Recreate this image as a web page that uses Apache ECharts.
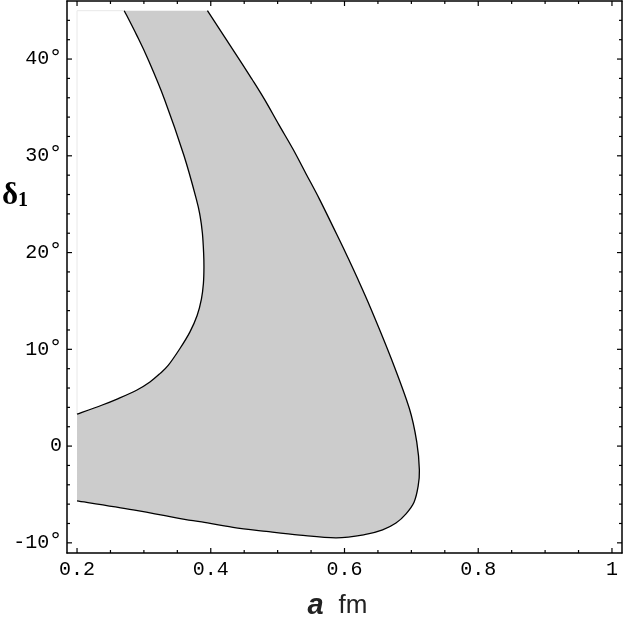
<!DOCTYPE html>
<html>
<head>
<meta charset="utf-8">
<script src="https://cdn.jsdelivr.net/npm/echarts@6/dist/echarts.min.js"></script>
<style>
  html, body { margin: 0; padding: 0; background: #fff; }
  #main { width: 623px; height: 625px; }
</style>
</head>
<body>
<div id="main"></div>
<script>
// 允许区域的边界 (a in fm, delta_1 in degrees)
// 外侧曲线：从顶部往下绕过右边再回到 a=0.2
var outerA = [0.395, 0.4433, 0.4622, 0.4806, 0.502, 0.5229, 0.5428, 0.5627, 0.5918, 0.6061, 0.6187, 0.6396, 0.670, 0.697, 0.708, 0.712, 0.710, 0.704, 0.692, 0.677, 0.657, 0.630, 0.5876, 0.533, 0.483, 0.4333, 0.3836, 0.3587, 0.284, 0.2];
var outerD = [45, 39.9, 37.86, 35.8, 33.2, 30.7, 28.1, 25.5, 21.4, 19.33, 17.45, 14.18, 9.03, 3.88, 0.45, -2.5, -4.2, -5.8, -7.0, -7.95, -8.65, -9.15, -9.48, -9.2, -8.82, -8.4, -7.8, -7.55, -6.59, -5.66];
// 内侧曲线：从 a=0.2 往上到顶部
var innerA = [0.2, 0.2368, 0.2617, 0.289, 0.309, 0.3239, 0.3363, 0.3537, 0.3687, 0.3796, 0.386, 0.389, 0.3898, 0.3893, 0.3875, 0.384, 0.3785, 0.360, 0.331, 0.306, 0.289, 0.2706];
var innerD = [3.3, 4.22, 4.91, 5.77, 6.63, 7.49, 8.34, 10.06, 11.78, 13.5, 15.2, 16.8, 18.5, 20.0, 22.0, 23.8, 25.5, 30.0, 35.8, 40.0, 42.5, 45];

// 绘图区域范围
var plotMinA = 0.2, plotMaxD = 45;

// 坐标轴刻度
var xMajor = [0.2, 0.4, 0.6, 0.8, 1];
var xMinor = [0.25, 0.3, 0.35, 0.45, 0.5, 0.55, 0.65, 0.7, 0.75, 0.85, 0.9, 0.95];
var yMajor = [-10, 0, 10, 20, 30, 40];
var yMinor = [-8, -6, -4, -2, 2, 4, 6, 8, 12, 14, 16, 18, 22, 24, 26, 28, 32, 34, 36, 38, 42, 44];

var pairs = function (xs, ys) {
  return xs.map(function (x, i) { return [x, ys[i]]; });
};
var outerPts = pairs(outerA, outerD);
var innerPts = pairs(innerA, innerD);

var chart = echarts.init(document.getElementById('main'));

var monoFont = 'Liberation Mono';
var xRange = { min: 0.185, max: 1.015 };
var yRange = { min: -11.05, max: 46 };
var MAJOR_LEN = 5, MINOR_LEN = 3;

function frameAxis(pos, range, opt) {
  return Object.assign({
    type: 'value', position: pos, min: range.min, max: range.max,
    axisLine: { show: true, onZero: false, lineStyle: { color: '#000', width: 1.5 } },
    axisTick: { show: false },
    axisLabel: { show: false },
    splitLine: { show: false }
  }, opt || {});
}

// 像素点 -> 平滑贝塞尔路径 (Catmull-Rom)
function smoothPath(p, start) {
  var d = start ? 'M' + p[0][0] + ' ' + p[0][1] : 'L' + p[0][0] + ' ' + p[0][1];
  for (var i = 0; i < p.length - 1; i++) {
    var p0 = p[Math.max(i - 1, 0)], p1 = p[i], p2 = p[i + 1], p3 = p[Math.min(i + 2, p.length - 1)];
    var c1x = p1[0] + (p2[0] - p0[0]) / 6, c1y = p1[1] + (p2[1] - p0[1]) / 6;
    var c2x = p2[0] - (p3[0] - p1[0]) / 6, c2y = p2[1] - (p3[1] - p1[1]) / 6;
    d += ' C' + c1x + ' ' + c1y + ' ' + c2x + ' ' + c2y + ' ' + p2[0] + ' ' + p2[1];
  }
  return d;
}

// 区域填充 + 边界曲线
function renderRegion(params, api) {
  if (params.dataIndex !== 0) return null;
  var op = outerPts.map(function (v) { return api.coord(v); });
  var ip = innerPts.map(function (v) { return api.coord(v); });
  var fillPath = smoothPath(op, true) + ' ' + smoothPath(ip, false) + ' Z';
  var frame = [[plotMinA, innerD[0]], [plotMinA, plotMaxD], [innerA[innerA.length - 1], plotMaxD]]
    .map(function (v) { return api.coord(v); });
  return {
    type: 'group',
    children: [
      { type: 'path', shape: { pathData: fillPath }, style: { fill: '#cccccc', stroke: null } },
      { type: 'polyline', shape: { points: frame }, style: { fill: null, stroke: '#e8e8e8', lineWidth: 1 } },
      { type: 'path', shape: { pathData: smoothPath(op, true) }, style: { fill: null, stroke: '#000', lineWidth: 1.3 } },
      { type: 'path', shape: { pathData: smoothPath(ip, true) }, style: { fill: null, stroke: '#000', lineWidth: 1.3 } }
    ]
  };
}

//刻度线（四边，朝内）
function renderTicks(params, api) {
  if (params.dataIndex !== 0) return null;
  var children = [];
  var add = function (p, dx, dy) {
    children.push({
      type: 'line',
      shape: { x1: p[0], y1: p[1], x2: p[0] + dx, y2: p[1] + dy },
      style: { stroke: '#000', lineWidth: 1.2 }
    });
  };
  xMajor.forEach(function (v) {
    add(api.coord([v, yRange.min]), 0, -MAJOR_LEN);
    add(api.coord([v, yRange.max]), 0, MAJOR_LEN);
  });
  xMinor.forEach(function (v) {
    add(api.coord([v, yRange.min]), 0, -MINOR_LEN);
    add(api.coord([v, yRange.max]), 0, MINOR_LEN);
  });
  yMajor.forEach(function (v) {
    add(api.coord([xRange.min, v]), MAJOR_LEN, 0);
    add(api.coord([xRange.max, v]), -MAJOR_LEN, 0);
  });
  yMinor.forEach(function (v) {
    add(api.coord([xRange.min, v]), MINOR_LEN, 0);
    add(api.coord([xRange.max, v]), -MINOR_LEN, 0);
  });
  return { type: 'group', children: children };
}

var option = {
  animation: false,
  backgroundColor: '#fff',
  grid: { left: 67, right: 1, top: 1, bottom: 70 },
  xAxis: [
    frameAxis('bottom', xRange, {
      axisLabel: {
        show: true, customValues: xMajor, margin: 7,
        fontFamily: monoFont, fontSize: 20, color: '#000',
        formatter: function (v) { return String(v); }
      },
      name: '{a|a}{f|fm}',
      nameLocation: 'middle',
      nameGap: 38,
      nameTextStyle: {
        padding: [0, 14, 0, 0],
        rich: {
          a: { fontFamily: 'Liberation Sans', fontSize: 29, fontStyle: 'italic', fontWeight: 'bold', color: '#222', padding: [0, 15, 0, 0] },
          f: { fontFamily: 'Liberation Sans', fontSize: 26, color: '#222' }
        }
      }
    }),
    frameAxis('top', xRange)
  ],
  yAxis: [
    frameAxis('left', yRange, {
      axisLabel: {
        show: true, customValues: yMajor, margin: 5,
        fontFamily: monoFont, fontSize: 20, color: '#000',
        formatter: function (v) { return v === 0 ? '0' : v + '{d|°}'; },
        rich: {
          d: { fontFamily: 'DejaVu Sans Mono', fontSize: 21, color: '#000' }
        }
      }
    }),
    frameAxis('right', yRange)
  ],
  graphic: [{
    type: 'text',
    left: 2,
    top: 180,
    style: {
      text: '{d|δ}{s|1}',
      rich: {
        d: { fontFamily: 'Liberation Serif', fontSize: 31, fontWeight: 'bold', fill: '#000' },
        s: { fontFamily: 'Liberation Serif', fontSize: 20, fontWeight: 'bold', fill: '#000', verticalAlign: 'bottom', lineHeight: 20 }
      }
    }
  }],
  series: [
    {
      type: 'custom',
      z: 1,
      silent: true,
      data: [outerPts[0]],
      renderItem: renderRegion
    },
    {
      type: 'custom',
      z: 5,
      silent: true,
      clip: false,
      data: [[xRange.min, yRange.min]],
      renderItem: renderTicks
    }
  ]
};

chart.setOption(option);
</script>
</body>
</html>
